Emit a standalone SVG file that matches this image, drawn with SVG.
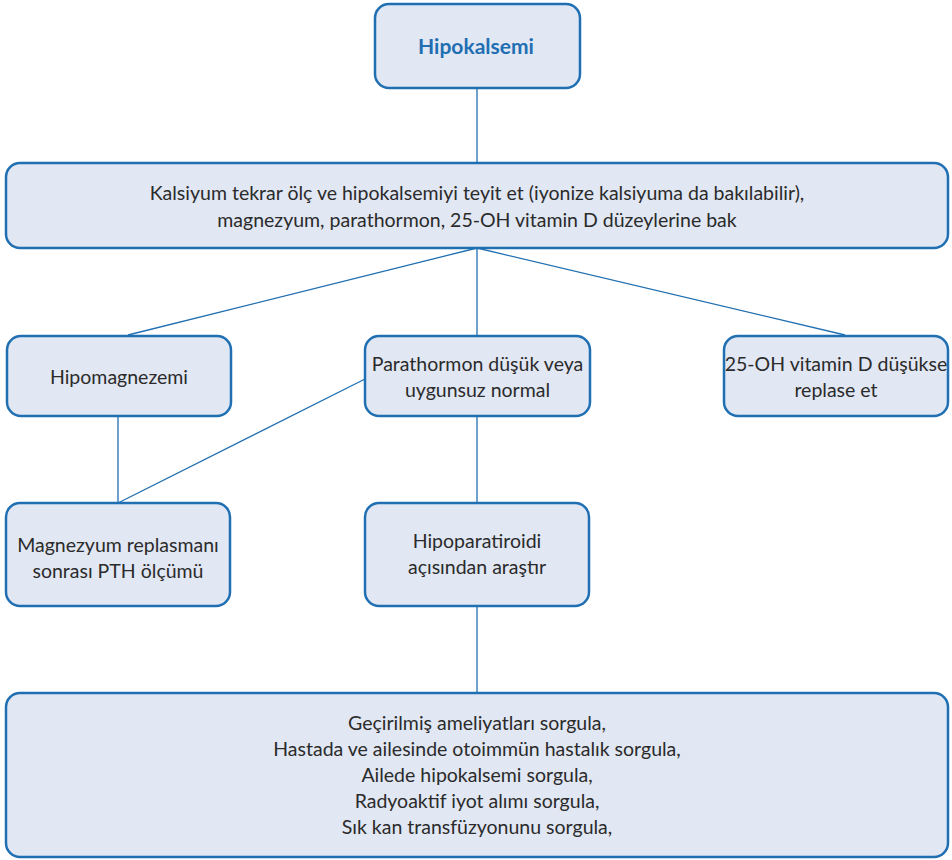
<svg xmlns="http://www.w3.org/2000/svg" width="952" height="860" viewBox="0 0 952 860">
<style>
.box{fill:#e1e7f3;stroke:#1f6fb2;stroke-width:2.5}
.t{font-family:Lato,"Noto Sans",sans-serif;font-size:19.5px;fill:#2b2b2b;text-anchor:middle}
.h{font-family:Lato,"Noto Sans",sans-serif;font-size:21px;fill:#1f6fb2;font-weight:bold;text-anchor:middle}
.c{stroke:#1f6fb2;stroke-width:1.3;fill:none}
</style>
<rect width="952" height="860" fill="#fff"/>
<g id="connectors">
<line class="c" x1="477" y1="88" x2="477" y2="163"/>
<line class="c" x1="477" y1="248" x2="128" y2="335"/>
<line class="c" x1="477" y1="248" x2="477" y2="335"/>
<line class="c" x1="477" y1="248" x2="845" y2="335"/>
<line class="c" x1="118" y1="416" x2="118" y2="503"/>
<line class="c" x1="365" y1="379" x2="118" y2="503"/>
<line class="c" x1="477" y1="416" x2="477" y2="503"/>
<line class="c" x1="477" y1="606" x2="477" y2="693"/>
</g>
<g id="hipokalsemi">
<rect class="box" x="375" y="4" width="205" height="84" rx="14"/>
<text class="h" x="476" y="54">Hipokalsemi</text>
</g>
<g id="kalsiyum">
<rect class="box" x="6" y="163" width="942" height="85" rx="14"/>
<text class="t" x="477" y="200">Kalsiyum tekrar ölç ve hipokalsemiyi teyit et (iyonize kalsiyuma da bakılabilir),</text>
<text class="t" x="477" y="227">magnezyum, parathormon, 25-OH vitamin D düzeylerine bak</text>
</g>
<g id="hipomagnezemi">
<rect class="box" x="7" y="336" width="224" height="80" rx="14"/>
<text class="t" x="119" y="384">Hipomagnezemi</text>
</g>
<g id="parathormon">
<rect class="box" x="365" y="336" width="225" height="80" rx="14"/>
<text class="t" x="477.5" y="371">Parathormon düşük veya</text>
<text class="t" x="477.5" y="397">uygunsuz normal</text>
</g>
<g id="vitd">
<rect class="box" x="724" y="336" width="224" height="80" rx="14"/>
<text class="t" x="836" y="371">25-OH vitamin D düşükse</text>
<text class="t" x="836" y="397">replase et</text>
</g>
<g id="magnezyum">
<rect class="box" x="6" y="503" width="224" height="103" rx="14"/>
<text class="t" x="118" y="552">Magnezyum replasmanı</text>
<text class="t" x="118" y="578">sonrası PTH ölçümü</text>
</g>
<g id="hipoparatiroidi">
<rect class="box" x="365" y="503" width="224" height="103" rx="14"/>
<text class="t" x="477" y="548">Hipoparatiroidi</text>
<text class="t" x="477" y="574">açısından araştır</text>
</g>
<g id="sorgula">
<rect class="box" x="6" y="693" width="942" height="164" rx="14"/>
<text class="t" x="477" y="730">Geçirilmiş ameliyatları sorgula,</text>
<text class="t" x="477" y="756">Hastada ve ailesinde otoimmün hastalık sorgula,</text>
<text class="t" x="477" y="782">Ailede hipokalsemi sorgula,</text>
<text class="t" x="477" y="808">Radyoaktif iyot alımı sorgula,</text>
<text class="t" x="477" y="834">Sık kan transfüzyonunu sorgula,</text>
</g>
</svg>
